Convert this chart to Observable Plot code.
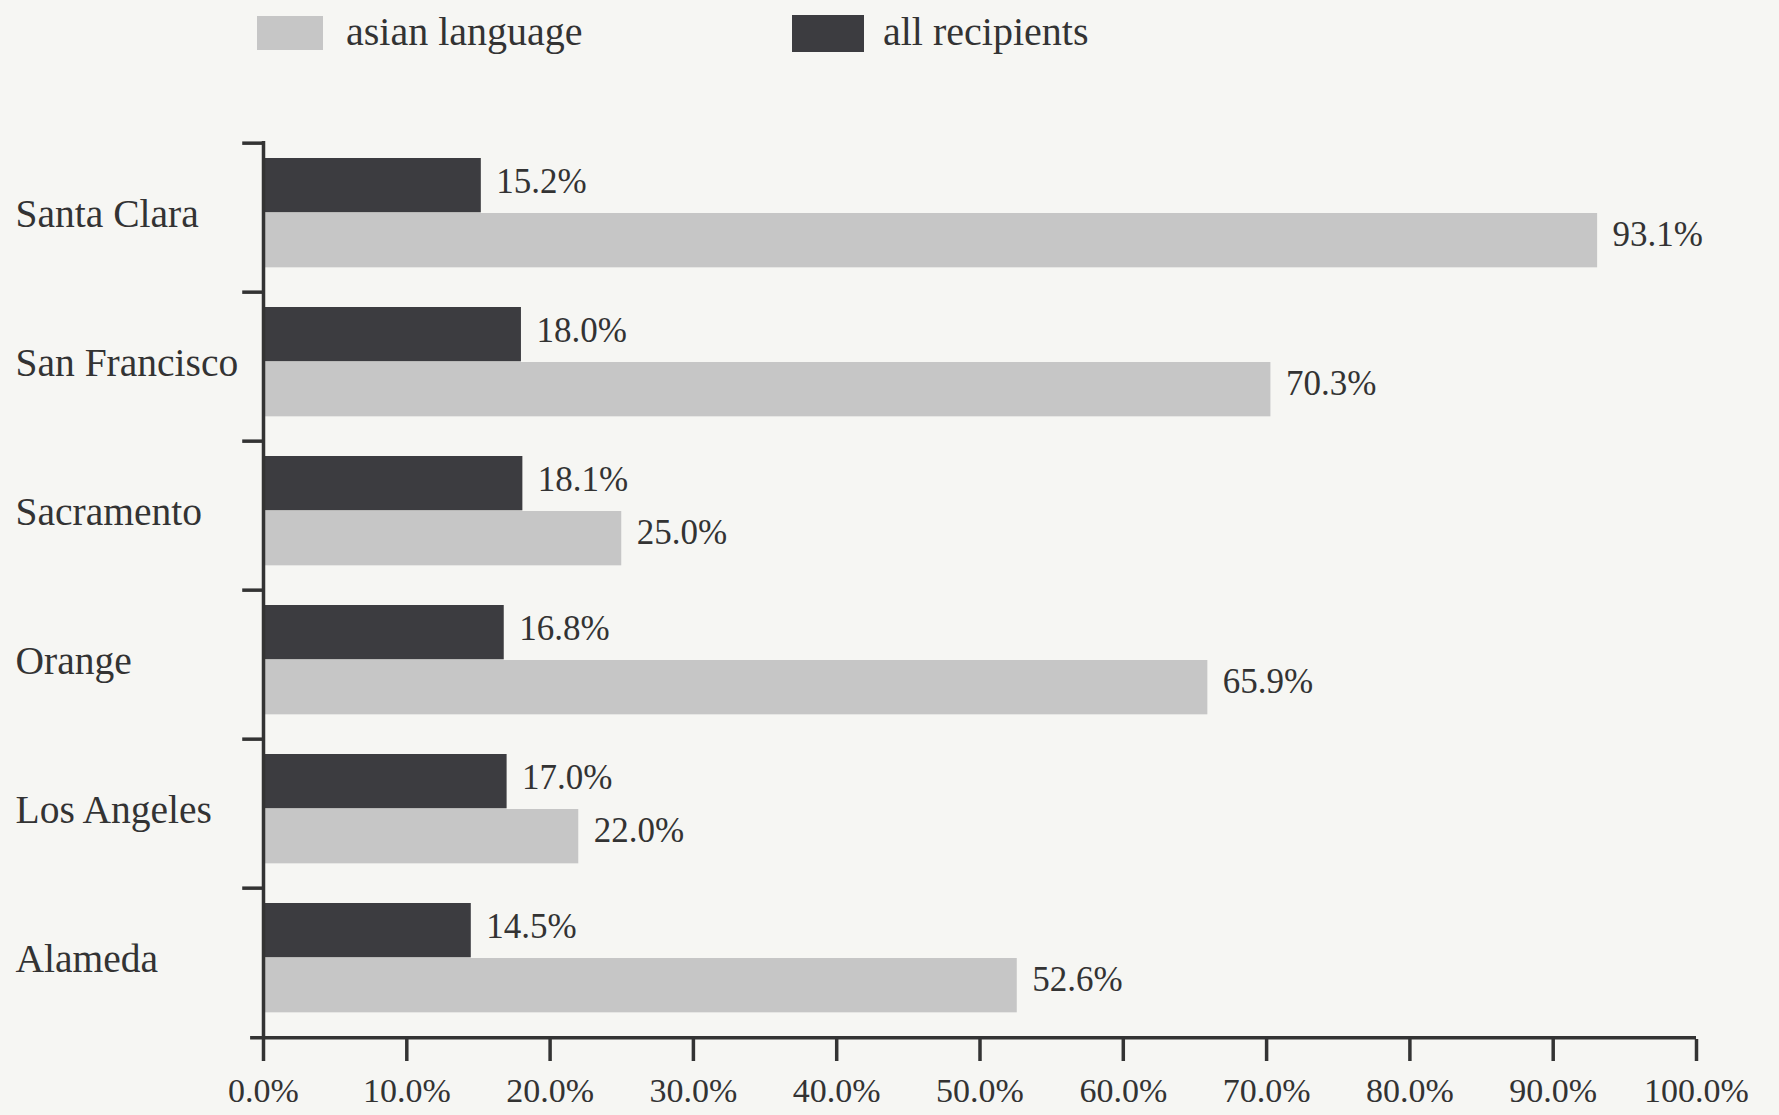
<!DOCTYPE html>
<html>
<head>
<meta charset="utf-8">
<script src="https://cdn.jsdelivr.net/npm/d3@7"></script>
<script src="https://cdn.jsdelivr.net/npm/@observablehq/plot@0.6"></script>
<style>
  html, body { margin: 0; padding: 0; background: #f6f6f3; }
  body { width: 1779px; height: 1115px; overflow: hidden; font-family: "Liberation Serif", "Times New Roman", serif; color: #333; }
  #legend { position: relative; height: 70px; }
  #legend .sw { position: absolute; }
  #legend .lb { position: absolute; font-size: 40px; line-height: 40px; color: #333; white-space: nowrap; }
  #chart svg { display: block; }
</style>
</head>
<body>
<div id="legend"></div>
<div id="chart"></div>
<script>
const counties = ["Santa Clara", "San Francisco", "Sacramento", "Orange", "Los Angeles", "Alameda"];
const asianLanguage = [93.1, 70.3, 25.0, 65.9, 22.0, 52.6];
const allRecipients = [15.2, 18.0, 18.1, 16.8, 17.0, 14.5];
const xTicks = [0, 10, 20, 30, 40, 50, 60, 70, 80, 90, 100];
const seriesNames = ["asian language", "all recipients"];
const seriesColors = ["#c6c6c6", "#3c3c40"];

const asianData = counties.map((c, i) => ({county: c, value: asianLanguage[i]}));
const allData = counties.map((c, i) => ({county: c, value: allRecipients[i]}));

// Legend
const legend = document.getElementById("legend");
const legendItems = [
  {name: seriesNames[0], color: seriesColors[0], sw: [257, 16, 66, 34], tx: 346},
  {name: seriesNames[1], color: seriesColors[1], sw: [792, 15, 72, 37], tx: 883}
];
for (const it of legendItems) {
  const s = document.createElement("div");
  s.className = "sw";
  s.style.left = it.sw[0] + "px"; s.style.top = it.sw[1] + "px";
  s.style.width = it.sw[2] + "px"; s.style.height = it.sw[3] + "px";
  s.style.background = it.color;
  legend.appendChild(s);
  const t = document.createElement("div");
  t.className = "lb";
  t.style.left = it.tx + "px"; t.style.top = "12px";
  t.textContent = it.name;
  legend.appendChild(t);
}

const W = 1779, H = 1045;
const mTop = 71, mBottom = 76, mLeft = 263, mRight = 83;
const bw = (H - mTop - mBottom) / counties.length;
const axisColor = "#333";

const chart = Plot.plot({
  width: W,
  height: H,
  marginTop: mTop,
  marginBottom: mBottom,
  marginLeft: mLeft,
  marginRight: mRight,
  style: {background: "transparent", fontFamily: "Liberation Serif, Times New Roman, serif", fontSize: "34px", color: "#333"},
  x: {domain: [0, 100]},
  y: {domain: counties, padding: 0},
  marks: [
    Plot.barX(allData, {x: "value", y: "county", fill: seriesColors[1], insetTop: 15, insetBottom: bw - 15 - 55}),
    Plot.barX(asianData, {x: "value", y: "county", fill: seriesColors[0], insetTop: 70, insetBottom: bw - 70 - 55}),
    Plot.text(allData, {x: "value", y: "county", text: d => d.value.toFixed(1) + "%", dx: 15, dy: -36, textAnchor: "start", fontSize: 35, fill: "#333"}),
    Plot.text(asianData, {x: "value", y: "county", text: d => d.value.toFixed(1) + "%", dx: 15, dy: 17, textAnchor: "start", fontSize: 35, fill: "#333"}),
    Plot.ruleX([0], {stroke: axisColor, strokeWidth: 3.5}),
    Plot.ruleY(counties, {y: d => d, x1: -1.45, x2: 0, dy: -bw / 2, stroke: axisColor, strokeWidth: 3.5}),
    Plot.ruleY(counties.slice(-1), {y: d => d, x1: -0.9, x2: 100, dy: bw / 2, stroke: axisColor, strokeWidth: 3.5}),
    Plot.axisX({ticks: xTicks, tickFormat: d => d.toFixed(1) + "%", tickSize: 22, tickPadding: 16, strokeWidth: 3.5, stroke: axisColor, fontSize: 34, label: null}),
    Plot.axisY({tickSize: 0, textAnchor: "start", tickPadding: 248, fontSize: 39.5, dy: -4, label: null})
  ]
});
document.getElementById("chart").appendChild(chart);
</script>
</body>
</html>
